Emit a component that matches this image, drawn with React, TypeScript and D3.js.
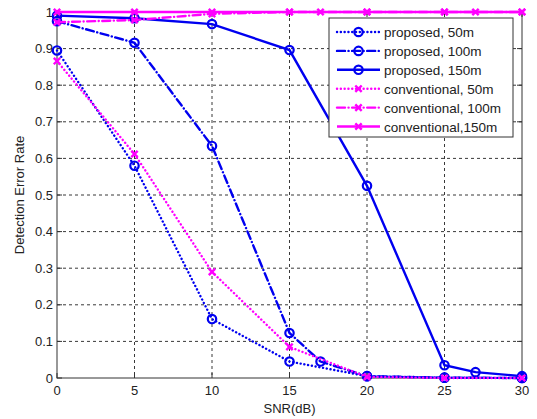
import React, { useRef, useEffect } from 'react';
import * as d3 from 'd3';

// x values where each curve has a point
const snrProp50 = [0, 5, 10, 15, 20, 25, 30];
const snrProp100 = [0, 5, 10, 15, 17, 20, 25, 30];
const snrProp150 = [0, 5, 10, 15, 20, 25, 27, 30];
const snrConv50 = [0, 5, 10, 15, 20, 25, 30];
const snrConv100 = [0, 5, 10, 15, 20, 25, 30];
const snrConv150 = [0, 5, 10, 15, 17, 20, 25, 27, 30];

// detection error rate
const prop50 = [0.895, 0.58, 0.161, 0.045, 0.005, 0.001, 0.0];
const prop100 = [0.975, 0.916, 0.634, 0.123, 0.045, 0.005, 0.001, 0.0];
const prop150 = [0.99, 0.983, 0.967, 0.896, 0.525, 0.035, 0.016, 0.005];
const conv50 = [0.866, 0.612, 0.29, 0.085, 0.003, 0.0, 0.0];
const conv100 = [0.972, 0.978, 0.995, 1, 1, 1, 1];
const conv150 = [1, 1, 1, 1, 1, 1, 1, 1, 1];

const xTicks = [0, 5, 10, 15, 20, 25, 30];
const yTicks = [0, 0.1, 0.2, 0.3, 0.4, 0.5, 0.6, 0.7, 0.8, 0.9, 1];

const legendLabels = [
  'proposed, 50m',
  'proposed, 100m',
  'proposed, 150m',
  'conventional, 50m',
  'conventional, 100m',
  'conventional,150m',
];

const BLUE = '#0000f0';
const MAGENTA = '#ff00ff';
const DOT = '0.1,3.7';
const DASHDOT = '8,3.5,0.1,3.5';

const series = [
  { x: snrProp50, y: prop50, color: BLUE, dash: DOT, marker: 'o' },
  { x: snrProp100, y: prop100, color: BLUE, dash: DASHDOT, marker: 'o' },
  { x: snrProp150, y: prop150, color: BLUE, dash: null, marker: 'o' },
  { x: snrConv50, y: conv50, color: MAGENTA, dash: DOT, marker: 'x' },
  { x: snrConv100, y: conv100, color: MAGENTA, dash: DASHDOT, marker: 'x' },
  { x: snrConv150, y: conv150, color: MAGENTA, dash: null, marker: 'x' },
];

const W = 537;
const H = 419;
const FONT = 'Liberation Sans, Arial, sans-serif';

function drawMarker(g: any, type: string, cx: number, cy: number, color: string) {
  if (type === 'o') {
    g.append('circle')
      .attr('cx', cx).attr('cy', cy).attr('r', 4.2)
      .attr('fill', 'none').attr('stroke', color).attr('stroke-width', 2.2);
  } else {
    const s = 3.2;
    g.append('path')
      .attr('d', `M${cx - s},${cy - s}L${cx + s},${cy + s}M${cx - s},${cy + s}L${cx + s},${cy - s}`)
      .attr('stroke', color).attr('stroke-width', 2.4).attr('fill', 'none');
  }
}

function ErrorRateChart() {
  const svgRef = useRef<SVGSVGElement>(null);

  useEffect(() => {
    const svg = d3.select(svgRef.current);
    svg.selectAll('*').remove();

    const left = 57, right = 522, top = 12, bottom = 378;

    const xScale = d3.scaleLinear().domain([0, 30]).range([left, right]);
    const yScale = d3.scaleLinear().domain([0, 1]).range([bottom, top]);

    svg.append('rect').attr('width', W).attr('height', H).attr('fill', '#fff');

    // grid
    const grid = svg.append('g').attr('stroke', '#222').attr('stroke-width', 0.9)
      .attr('stroke-dasharray', '3,3');
    xTicks.slice(1, -1).forEach(t => {
      grid.append('line').attr('x1', xScale(t)).attr('x2', xScale(t))
        .attr('y1', top).attr('y2', bottom);
    });
    yTicks.slice(1, -1).forEach(t => {
      grid.append('line').attr('x1', left).attr('x2', right)
        .attr('y1', yScale(t)).attr('y2', yScale(t));
    });

    // box + inward ticks
    const axes = svg.append('g').attr('stroke', '#333').attr('stroke-width', 1).attr('fill', 'none');
    axes.append('rect').attr('x', left).attr('y', top)
      .attr('width', right - left).attr('height', bottom - top);
    xTicks.forEach(t => {
      axes.append('line').attr('x1', xScale(t)).attr('x2', xScale(t)).attr('y1', bottom).attr('y2', bottom - 5);
      axes.append('line').attr('x1', xScale(t)).attr('x2', xScale(t)).attr('y1', top).attr('y2', top + 5);
    });
    yTicks.forEach(t => {
      axes.append('line').attr('x1', left).attr('x2', left + 5).attr('y1', yScale(t)).attr('y2', yScale(t));
      axes.append('line').attr('x1', right).attr('x2', right - 5).attr('y1', yScale(t)).attr('y2', yScale(t));
    });

    // tick labels
    const labels = svg.append('g').attr('font-family', FONT).attr('font-size', 13).attr('fill', '#222');
    xTicks.forEach(t => {
      labels.append('text').attr('x', xScale(t)).attr('y', bottom + 17)
        .attr('text-anchor', 'middle').text(d3.format('d')(t));
    });
    yTicks.forEach(t => {
      labels.append('text').attr('x', left - 4).attr('y', yScale(t) + 4.5)
        .attr('text-anchor', 'end').text(t === 0 || t === 1 ? String(t) : d3.format('.1f')(t));
    });

    labels.append('text').attr('x', (left + right) / 2).attr('y', 413)
      .attr('text-anchor', 'middle').text('SNR(dB)');
    labels.append('text')
      .attr('transform', `translate(24,${(top + bottom) / 2}) rotate(-90)`)
      .attr('text-anchor', 'middle').text('Detection Error Rate');

    // curves
    const line = d3.line<[number, number]>()
      .x(d => xScale(d[0]))
      .y(d => yScale(d[1]));

    const plot = svg.append('g');
    series.forEach(s => {
      const pts: [number, number][] = s.x.map((x, i) => [x, s.y[i]]);
      plot.append('path')
        .attr('d', line(pts))
        .attr('fill', 'none')
        .attr('stroke', s.color)
        .attr('stroke-width', 2.4)
        .attr('stroke-dasharray', s.dash)
        .attr('stroke-linecap', s.dash ? 'round' : 'butt');
      pts.forEach(p => drawMarker(plot, s.marker, xScale(p[0]), yScale(p[1]), s.color));
    });

    // legend
    const lx = 329, ly = 18, lw = 184, lh = 119;
    const legend = svg.append('g');
    legend.append('rect').attr('x', lx).attr('y', ly).attr('width', lw).attr('height', lh)
      .attr('fill', '#fff').attr('stroke', '#333').attr('stroke-width', 1);
    series.forEach((s, i) => {
      const yy = 32 + i * 18.9;
      legend.append('line').attr('x1', 337).attr('x2', 380).attr('y1', yy).attr('y2', yy)
        .attr('stroke', s.color).attr('stroke-width', 2.4)
        .attr('stroke-dasharray', s.dash)
        .attr('stroke-linecap', s.dash ? 'round' : 'butt');
      drawMarker(legend, s.marker, 358.5, yy, s.color);
      legend.append('text').attr('x', 384).attr('y', yy + 5)
        .attr('font-family', FONT).attr('font-size', 13.5).attr('fill', '#222')
        .text(legendLabels[i]);
    });
  }, []);

  return (
    <svg ref={svgRef} width={W} height={H}
      style={{ position: 'absolute', left: 0, top: 0, display: 'block' }} />
  );
}

export default function App() {
  return <ErrorRateChart />;
}
